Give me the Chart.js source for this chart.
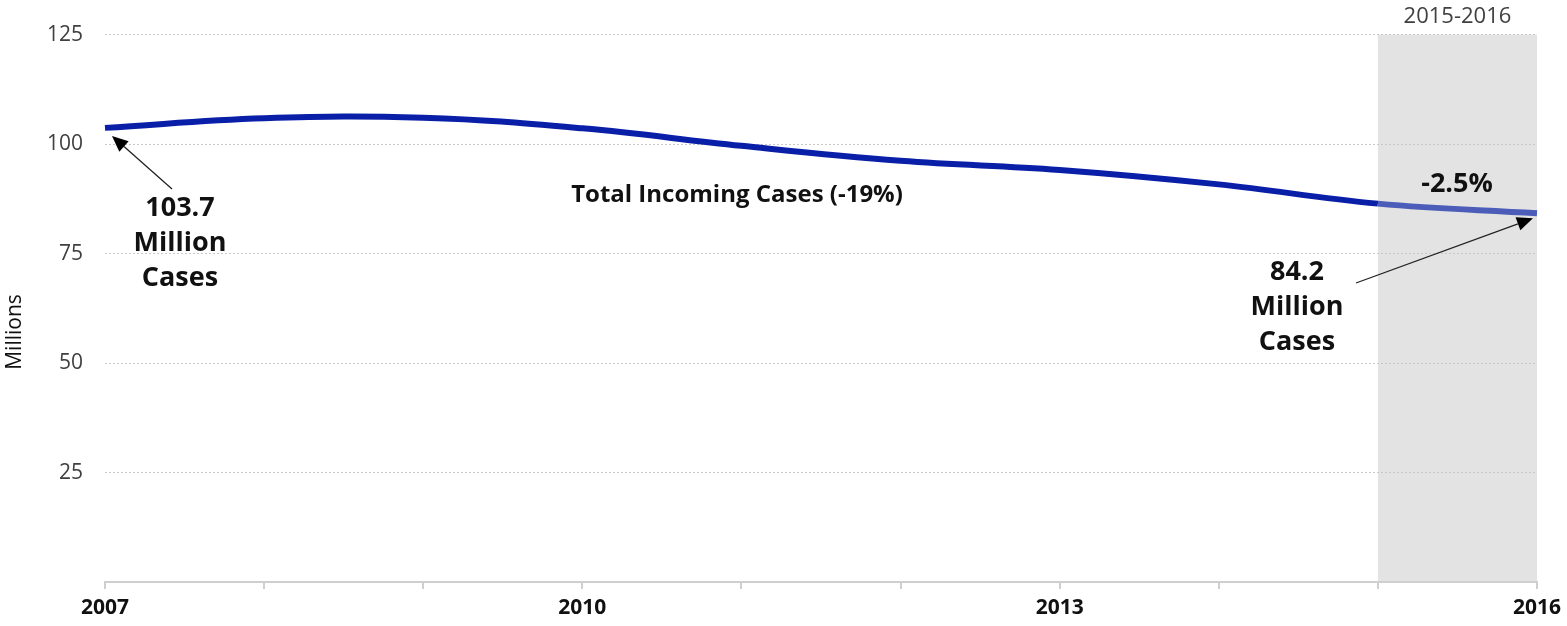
<!DOCTYPE html>
<html>
<head>
<meta charset="utf-8">
<script src="https://cdn.jsdelivr.net/npm/chart.js@4.4.1/dist/chart.umd.min.js"></script>
<style>
  html, body { margin: 0; padding: 0; background: #fff; }
  #wrap { width: 1567px; height: 626px; }
</style>
</head>
<body>
<div id="wrap"><canvas id="casesChart" width="1567" height="626"></canvas></div>
<script>
// Data
const years = ['2007', '2008', '2009', '2010', '2011', '2012', '2013', '2014', '2015', '2016'];
const incomingCases = [103.7, 105.9, 106.0, 103.6, 99.6, 96.2, 94.1, 90.8, 86.4, 84.2];
const shownYears = ['2007', '2010', '2013', '2016'];
const yTicks = [25, 50, 75, 100, 125];

const FONT = '"Open Sans", "Noto Sans", sans-serif';

// Gray box behind the 2015-2016 period, plus the rotated axis title
const shadePlugin = {
    id: 'shade',
    beforeDraw(chart) {
        const ctx = chart.ctx;
        const x = chart.scales.x, area = chart.chartArea;
        const x0 = x.getPixelForValue(8), x1 = x.getPixelForValue(9);
        ctx.save();
        ctx.fillStyle = '#e3e3e3';
        ctx.fillRect(x0, area.top, x1 - x0, area.bottom - area.top);
        ctx.fillStyle = '#404040';
        ctx.font = '22px ' + FONT;
        ctx.textAlign = 'center';
        ctx.textBaseline = 'middle';
        ctx.fillText('2015-2016', (x0 + x1) / 2, 17);
        // y axis title
        ctx.translate(15, 332);
        ctx.rotate(-Math.PI / 2);
        ctx.fillStyle = '#111';
        ctx.font = '21px ' + FONT;
        ctx.fillText('Millions', 0, 0);
        ctx.restore();
    }
};

function arrow(ctx, fx, fy, tx, ty) {
    const ang = Math.atan2(ty - fy, tx - fx);
    const head = 16, half = 7;
    const bx = tx - head * Math.cos(ang), by = ty - head * Math.sin(ang);
    ctx.beginPath();
    ctx.moveTo(fx, fy);
    ctx.lineTo(bx, by);
    ctx.strokeStyle = '#222';
    ctx.lineWidth = 1.3;
    ctx.stroke();
    ctx.beginPath();
    ctx.moveTo(tx, ty);
    ctx.lineTo(bx + half * Math.sin(ang), by - half * Math.cos(ang));
    ctx.lineTo(bx - half * Math.sin(ang), by + half * Math.cos(ang));
    ctx.closePath();
    ctx.fillStyle = '#000';
    ctx.fill();
}

// Callouts and arrows
const notesPlugin = {
    id: 'notes',
    afterDatasetsDraw(chart) {
        const ctx = chart.ctx;
        const x = chart.scales.x, y = chart.scales.y;
        const first = incomingCases[0], last = incomingCases[incomingCases.length - 1];
        const px0 = x.getPixelForValue(0), py0 = y.getPixelForValue(first);
        const px1 = x.getPixelForValue(9), py1 = y.getPixelForValue(last);
        ctx.save();
        ctx.fillStyle = '#111';
        ctx.textAlign = 'center';
        ctx.textBaseline = 'middle';
        ctx.font = 'bold 27px ' + FONT;
        ['103.7', 'Million', 'Cases'].forEach((t, i) => ctx.fillText(t, 180, 208 + i * 35));
        ['84.2', 'Million', 'Cases'].forEach((t, i) => ctx.fillText(t, 1297, 272 + i * 35));
        ctx.fillText('-2.5%', 1457, 184);
        ctx.font = 'bold 24px ' + FONT;
        ctx.fillText('Total Incoming Cases (-19%)', 737, 195);
        arrow(ctx, 172, 189, px0 + 7, py0 + 8);
        arrow(ctx, 1356, 283, px1 - 4, py1 + 5);
        ctx.restore();
    }
};

new Chart(document.getElementById('casesChart').getContext('2d'), {
    type: 'line',
    data: {
        labels: years,
        datasets: [{
            data: incomingCases,
            borderColor: '#0a1fa8',
            borderWidth: 6,
            tension: 0.4,
            pointRadius: 0,
            fill: false,
            segment: {
                borderColor: c => c.p0DataIndex === 8 ? '#4c5db9' : '#0a1fa8'
            }
        }]
    },
    options: {
        responsive: false,
        animation: false,
        layout: { padding: { top: 31, right: 30, left: 0, bottom: 0 } },
        plugins: {
            legend: { display: false },
            tooltip: { enabled: false }
        },
        scales: {
            x: {
                offset: false,
                grid: {
                    drawOnChartArea: false,
                    drawTicks: true,
                    tickLength: 7,
                    color: '#cfcfcf',
                    lineWidth: 2
                },
                border: { display: true, color: '#cfcfcf', width: 2 },
                ticks: {
                    autoSkip: false,
                    maxRotation: 0,
                    padding: 6,
                    color: '#111',
                    font: { family: FONT, size: 21, weight: 'bold' },
                    callback: function(v) {
                        const l = this.getLabelForValue(v);
                        return shownYears.includes(l) ? l : '';
                    }
                },
                afterFit: s => { s.height = 44; }
            },
            y: {
                min: 0,
                max: 125,
                grid: { color: '#c8c8c8', lineWidth: 1, drawTicks: false },
                border: { display: false, dash: [2, 2] },
                ticks: {
                    stepSize: 25,
                    padding: 22,
                    color: '#404040',
                    font: { family: FONT, size: 21 },
                    callback: v => yTicks.includes(v) ? v : ''
                },
                afterFit: s => { s.width = 105; }
            }
        }
    },
    plugins: [shadePlugin, notesPlugin]
});
</script>
</body>
</html>
